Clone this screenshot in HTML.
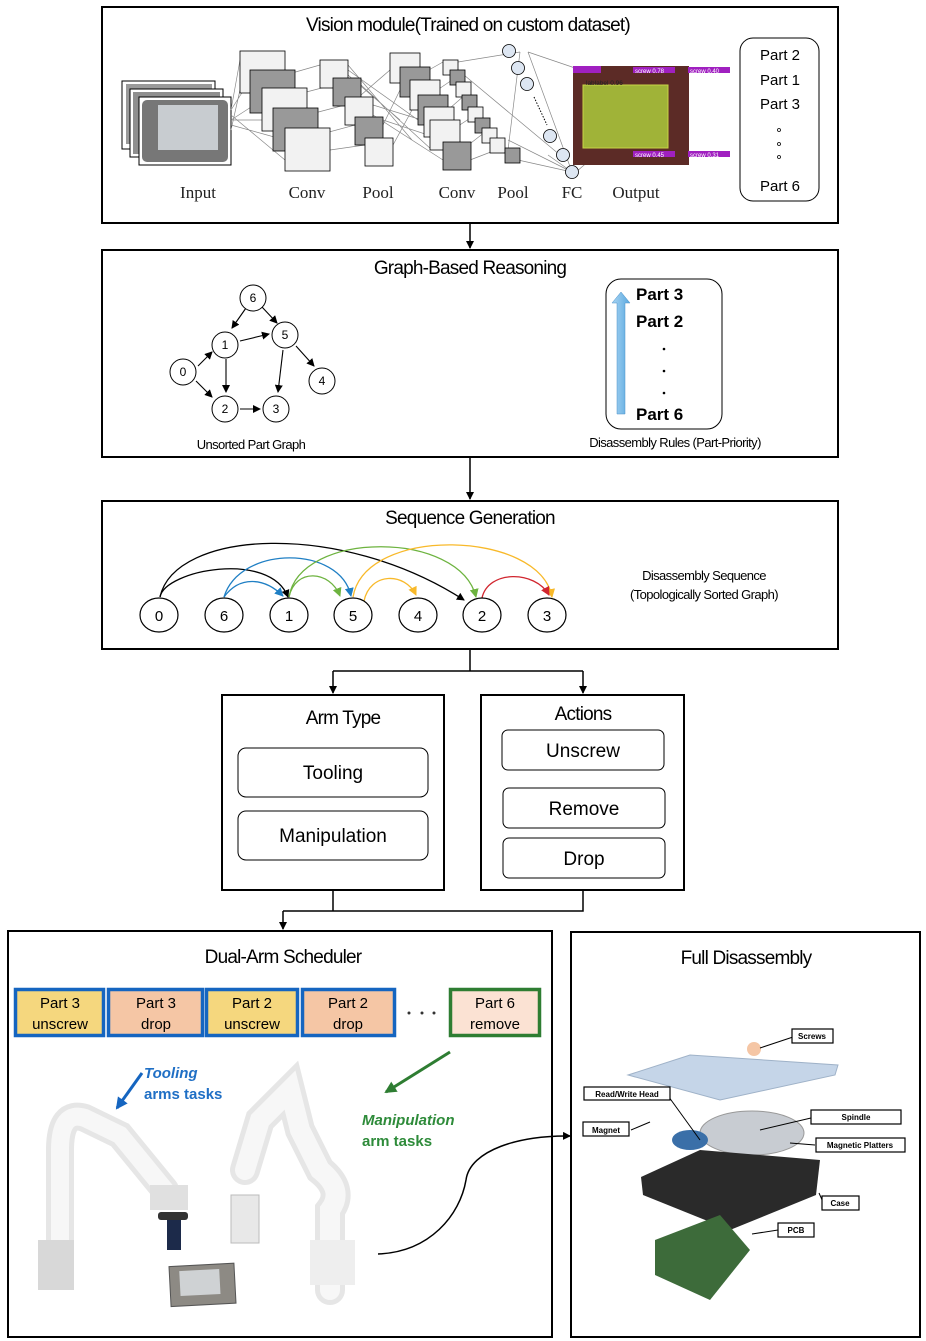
<!DOCTYPE html>
<html><head><meta charset="utf-8"><style>
html,body{margin:0;padding:0;background:#fff}
svg{display:block}
text{font-family:"Liberation Sans",sans-serif}
text.sf{font-family:"Liberation Serif",serif}
</style></head><body>
<svg width="926" height="1341" viewBox="0 0 926 1341" xmlns="http://www.w3.org/2000/svg">
<defs>
<marker id="ak" markerWidth="8" markerHeight="8" refX="7" refY="4" orient="auto" markerUnits="userSpaceOnUse"><path d="M0,0 L8,4 L0,8 z" fill="#000"/></marker>
<marker id="ab" markerWidth="9" markerHeight="9" refX="8" refY="4.5" orient="auto" markerUnits="userSpaceOnUse"><path d="M0,0 L9,4.5 L0,9 z" fill="#1f7fc4"/></marker>
<marker id="ag" markerWidth="9" markerHeight="9" refX="8" refY="4.5" orient="auto" markerUnits="userSpaceOnUse"><path d="M0,0 L9,4.5 L0,9 z" fill="#6db33f"/></marker>
<marker id="ay" markerWidth="9" markerHeight="9" refX="8" refY="4.5" orient="auto" markerUnits="userSpaceOnUse"><path d="M0,0 L9,4.5 L0,9 z" fill="#f8b92a"/></marker>
<marker id="ar" markerWidth="9" markerHeight="9" refX="8" refY="4.5" orient="auto" markerUnits="userSpaceOnUse"><path d="M0,0 L9,4.5 L0,9 z" fill="#d1262f"/></marker>
<marker id="aB" markerWidth="12" markerHeight="12" refX="10" refY="6" orient="auto" markerUnits="userSpaceOnUse"><path d="M0,0 L12,6 L0,12 z" fill="#1565c0"/></marker>
<marker id="aG" markerWidth="12" markerHeight="12" refX="10" refY="6" orient="auto" markerUnits="userSpaceOnUse"><path d="M0,0 L12,6 L0,12 z" fill="#2e7d32"/></marker>
<linearGradient id="upg" x1="0" x2="1"><stop offset="0" stop-color="#a9d4f2"/><stop offset="1" stop-color="#5aa9e0"/></linearGradient>
</defs>

<!-- Box 1 -->
<rect x="102" y="7" width="736" height="216" fill="none" stroke="#000" stroke-width="2"/>
<text x="468" y="31" font-size="19" text-anchor="middle" letter-spacing="-0.8">Vision module(Trained on custom dataset)</text>
<rect x="122" y="81" width="93" height="68" fill="#fff" stroke="#000"/>
<rect x="126" y="84" width="86" height="60" fill="#9a9a9a"/>
<rect x="130" y="89" width="93" height="68" fill="#fff" stroke="#000"/>
<rect x="133" y="92" width="87" height="62" fill="#8f8f8f"/>
<rect x="139" y="97" width="92" height="68" fill="#fff" stroke="#000"/>
<rect x="142" y="100" width="86" height="62" rx="5" fill="#777"/>
<rect x="158" y="105" width="60" height="45" fill="#c8ccd0"/>
<g stroke="#888" stroke-width="0.7" fill="none">
<path d="M231,110 L240,60 M231,110 L250,80 M231,120 L262,100 M231,120 L273,120 M231,125 L285,140 M231,130 L240,90 M231,115 L285,160"/>
<path d="M285,75 L320,65 M295,95 L333,85 M307,115 L345,105 M318,135 L355,125 M330,150 L365,145"/>
<path d="M348,65 L412,140 M348,75 L400,120 M361,85 L432,150 M361,95 L390,70 M373,105 L422,120 M373,115 L443,160 M383,125 L400,90 M393,145 L412,110 M383,120 L443,140 M348,70 L432,130"/>
<path d="M420,75 L443,62 M430,95 L455,78 M442,115 L465,95 M452,130 L475,115 M462,150 L485,132 M470,160 L496,150"/>
<path d="M458,62 L520,52 M508,150 L520,52 M458,70 L560,155 M518,160 L572,172 M508,140 L572,172 M548,155 L572,172"/>
<path d="M528,52 L572,172 M528,52 L575,68 M576,172 L590,160"/>
</g>
<g stroke="#000" stroke-width="0.8">
<rect x="240" y="51" width="45" height="42" fill="#f2f2f2"/>
<rect x="250" y="70" width="45" height="43" fill="#999"/>
<rect x="262" y="88" width="45" height="43" fill="#f2f2f2"/>
<rect x="273" y="108" width="45" height="43" fill="#999"/>
<rect x="285" y="128" width="45" height="43" fill="#f2f2f2"/>
<rect x="320" y="60" width="28" height="28" fill="#f2f2f2"/>
<rect x="333" y="78" width="28" height="28" fill="#999"/>
<rect x="345" y="97" width="28" height="28" fill="#f2f2f2"/>
<rect x="355" y="117" width="28" height="28" fill="#999"/>
<rect x="365" y="138" width="28" height="28" fill="#f2f2f2"/>
<rect x="390" y="53" width="30" height="30" fill="#f2f2f2"/>
<rect x="400" y="67" width="30" height="30" fill="#999"/>
<rect x="410" y="80" width="30" height="30" fill="#f2f2f2"/>
<rect x="418" y="95" width="30" height="30" fill="#999"/>
<rect x="424" y="107" width="30" height="30" fill="#f2f2f2"/>
<rect x="430" y="120" width="30" height="30" fill="#f2f2f2"/>
<rect x="443" y="142" width="28" height="28" fill="#999"/>
<rect x="443" y="60" width="15" height="15" fill="#f2f2f2"/>
<rect x="450" y="70" width="15" height="15" fill="#999"/>
<rect x="456" y="82" width="15" height="15" fill="#f2f2f2"/>
<rect x="462" y="95" width="15" height="15" fill="#999"/>
<rect x="468" y="107" width="15" height="15" fill="#f2f2f2"/>
<rect x="475" y="118" width="15" height="15" fill="#999"/>
<rect x="482" y="128" width="15" height="15" fill="#f2f2f2"/>
<rect x="490" y="138" width="15" height="15" fill="#f2f2f2"/>
<rect x="505" y="148" width="15" height="15" fill="#999"/>
</g>
<g fill="#dde6f2" stroke="#000" stroke-width="0.8">
<circle cx="509" cy="51" r="6.5"/><circle cx="518" cy="68" r="6.5"/><circle cx="527" cy="84" r="6.5"/>
<circle cx="550" cy="136" r="6.5"/><circle cx="563" cy="155" r="6.5"/><circle cx="572" cy="172" r="6.5"/>
</g>
<path d="M534,97 L547,125" stroke="#000" stroke-dasharray="1.5,1.5"/>
<rect x="573" y="66" width="116" height="99" fill="#5c2b26"/>
<rect x="583" y="85" width="85" height="63" fill="#a8c23a" opacity="0.9" stroke="#d4e84a"/>
<rect x="573" y="66" width="28" height="7" fill="#a020c0"/><rect x="633" y="67" width="42" height="6" fill="#a020c0"/><rect x="688" y="67" width="42" height="6" fill="#a020c0"/>
<rect x="633" y="151" width="42" height="6" fill="#a020c0"/><rect x="688" y="151" width="42" height="6" fill="#a020c0"/>
<text x="635" y="73" font-size="6" fill="#fff">screw 0.78</text><text x="690" y="73" font-size="6" fill="#fff">screw 0.40</text>
<text x="635" y="157" font-size="6" fill="#fff">screw 0.45</text><text x="690" y="157" font-size="6" fill="#fff">screw 0.31</text>
<text x="586" y="85" font-size="6.5" fill="#222">lablabel 0.96</text>
<g font-size="17" fill="#222" text-anchor="middle">
<text class="sf" x="198" y="198">Input</text>
<text class="sf" x="307" y="198">Conv</text>
<text class="sf" x="378" y="198">Pool</text>
<text class="sf" x="457" y="198">Conv</text>
<text class="sf" x="513" y="198">Pool</text>
<text class="sf" x="572" y="198">FC</text>
<text class="sf" x="636" y="198">Output</text>
</g>
<rect x="740" y="38" width="79" height="163" rx="13" fill="#fff" stroke="#000"/>
<g font-size="15" text-anchor="middle"><text x="780" y="60">Part 2</text><text x="780" y="85">Part 1</text><text x="780" y="109">Part 3</text><text x="780" y="191">Part 6</text></g>
<g fill="none" stroke="#000" stroke-width="0.8"><circle cx="779" cy="130" r="1.5"/><circle cx="779" cy="144" r="1.5"/><circle cx="779" cy="157" r="1.5"/></g>

<line x1="470" y1="223" x2="470" y2="248" stroke="#000" stroke-width="1.5" marker-end="url(#ak)"/>

<!-- Box 2 -->
<rect x="102" y="250" width="736" height="207" fill="none" stroke="#000" stroke-width="2"/>
<text x="470" y="274" font-size="19" text-anchor="middle" letter-spacing="-0.8">Graph-Based Reasoning</text>
<g stroke="#000" stroke-width="1.1" fill="none">
<line x1="246" y1="308" x2="232" y2="328" marker-end="url(#ak)"/>
<line x1="262" y1="307" x2="277" y2="323" marker-end="url(#ak)"/>
<line x1="240" y1="341" x2="269" y2="334" marker-end="url(#ak)"/>
<line x1="198" y1="366" x2="212" y2="352" marker-end="url(#ak)"/>
<line x1="196" y1="381" x2="212" y2="397" marker-end="url(#ak)"/>
<line x1="226" y1="359" x2="226" y2="392" marker-end="url(#ak)"/>
<line x1="240" y1="409" x2="260" y2="409" marker-end="url(#ak)"/>
<line x1="283" y1="350" x2="278" y2="392" marker-end="url(#ak)"/>
<line x1="296" y1="346" x2="314" y2="366" marker-end="url(#ak)"/>
</g>
<g fill="#fff" stroke="#000" stroke-width="1"><circle cx="253" cy="298" r="13"/><circle cx="225" cy="345" r="13"/><circle cx="285" cy="335" r="13"/><circle cx="183" cy="372" r="13"/><circle cx="322" cy="381" r="13"/><circle cx="225" cy="409" r="13"/><circle cx="276" cy="409" r="13"/></g>
<g font-size="12" text-anchor="middle"><text x="253" y="302">6</text><text x="225" y="349">1</text><text x="285" y="339">5</text><text x="183" y="376">0</text><text x="322" y="385">4</text><text x="225" y="413">2</text><text x="276" y="413">3</text></g>
<text x="251" y="449" font-size="13" text-anchor="middle" letter-spacing="-0.6">Unsorted Part Graph</text>
<rect x="606" y="279" width="116" height="150" rx="15" fill="#fff" stroke="#000"/>
<path d="M617,414 L617,303 L612,303 L621,292 L630,303 L625,303 L625,414 Z" fill="url(#upg)" stroke="#4a90c8" stroke-width="0.5"/>
<g font-size="17" font-weight="bold"><text x="636" y="300">Part 3</text><text x="636" y="327">Part 2</text><text x="636" y="420">Part 6</text></g>
<g fill="#000"><circle cx="664" cy="349" r="1.3"/><circle cx="664" cy="371" r="1.3"/><circle cx="664" cy="393" r="1.3"/></g>
<text x="675" y="447" font-size="13" text-anchor="middle" letter-spacing="-0.6">Disassembly Rules (Part-Priority)</text>

<line x1="470" y1="457" x2="470" y2="499" stroke="#000" stroke-width="1.5" marker-end="url(#ak)"/>

<!-- Box 3 -->
<rect x="102" y="501" width="736" height="148" fill="none" stroke="#000" stroke-width="2"/>
<text x="470" y="524" font-size="19" text-anchor="middle" letter-spacing="-0.8">Sequence Generation</text>
<g fill="none" stroke-width="1.3">
<path d="M160,597 C165,570 270,550 288,597" stroke="#000" marker-end="url(#ak)"/>
<path d="M160,597 C175,530 340,520 464,600" stroke="#000" marker-end="url(#ak)"/>
<path d="M224,597 C240,575 265,578 283,596" stroke="#1f7fc4" marker-end="url(#ab)"/>
<path d="M224,597 C240,545 340,545 351,596" stroke="#1f7fc4" marker-end="url(#ab)"/>
<path d="M289,597 C295,568 330,570 340,596" stroke="#6db33f" marker-end="url(#ag)"/>
<path d="M289,597 C300,530 460,530 476,597" stroke="#6db33f" marker-end="url(#ag)"/>
<path d="M353,597 C365,525 540,530 552,597" stroke="#f8b92a" marker-end="url(#ay)"/>
<path d="M364,601 C370,572 405,572 416,595" stroke="#f8b92a" marker-end="url(#ay)"/>
<path d="M482,598 C488,570 535,570 549,595" stroke="#d1262f" marker-end="url(#ar)"/>
</g>
<g fill="#fff" stroke="#000" stroke-width="1.2"><ellipse cx="159" cy="615" rx="19" ry="17"/><ellipse cx="224" cy="615" rx="19" ry="17"/><ellipse cx="289" cy="615" rx="19" ry="17"/><ellipse cx="353" cy="615" rx="19" ry="17"/><ellipse cx="418" cy="615" rx="19" ry="17"/><ellipse cx="482" cy="615" rx="19" ry="17"/><ellipse cx="547" cy="615" rx="19" ry="17"/></g>
<g font-size="15" text-anchor="middle"><text x="159" y="621">0</text><text x="224" y="621">6</text><text x="289" y="621">1</text><text x="353" y="621">5</text><text x="418" y="621">4</text><text x="482" y="621">2</text><text x="547" y="621">3</text></g>
<text x="704" y="580" font-size="13" text-anchor="middle" letter-spacing="-0.6">Disassembly Sequence</text>
<text x="704" y="599" font-size="13" text-anchor="middle" letter-spacing="-0.6">(Topologically Sorted Graph)</text>

<!-- connectors -->
<g stroke="#000" stroke-width="1.5" fill="none">
<path d="M470,649 L470,671 M333,671 L583,671"/>
<line x1="333" y1="671" x2="333" y2="693" marker-end="url(#ak)"/>
<line x1="583" y1="671" x2="583" y2="693" marker-end="url(#ak)"/>
<path d="M333,890 L333,911 M283,911 L583,911 L583,890"/>
<line x1="283" y1="911" x2="283" y2="929" marker-end="url(#ak)"/>
</g>

<!-- Arm type -->
<rect x="222" y="695" width="222" height="195" fill="#fff" stroke="#000" stroke-width="2"/>
<text x="343" y="724" font-size="19" text-anchor="middle" letter-spacing="-0.8">Arm Type</text>
<rect x="238" y="748" width="190" height="49" rx="8" fill="#fff" stroke="#000"/>
<text x="333" y="779" font-size="19" text-anchor="middle">Tooling</text>
<rect x="238" y="811" width="190" height="49" rx="8" fill="#fff" stroke="#000"/>
<text x="333" y="842" font-size="19" text-anchor="middle">Manipulation</text>
<rect x="481" y="695" width="203" height="195" fill="#fff" stroke="#000" stroke-width="2"/>
<text x="583" y="720" font-size="19" text-anchor="middle" letter-spacing="-0.8">Actions</text>
<rect x="502" y="730" width="162" height="40" rx="6" fill="#fff" stroke="#000"/>
<text x="583" y="757" font-size="19" text-anchor="middle">Unscrew</text>
<rect x="503" y="788" width="162" height="40" rx="6" fill="#fff" stroke="#000"/>
<text x="584" y="815" font-size="19" text-anchor="middle">Remove</text>
<rect x="503" y="838" width="162" height="40" rx="6" fill="#fff" stroke="#000"/>
<text x="584" y="865" font-size="19" text-anchor="middle">Drop</text>

<!-- Scheduler -->
<rect x="8" y="931" width="544" height="406" fill="none" stroke="#000" stroke-width="2"/>
<text x="283" y="963" font-size="19" text-anchor="middle" letter-spacing="-0.8">Dual-Arm Scheduler</text>
<g stroke-width="3.5">
<rect x="15.5" y="989.5" width="88" height="46" fill="#f5d77e" stroke="#1565c0"/>
<rect x="108.5" y="989.5" width="94" height="46" fill="#f5c6a5" stroke="#1565c0"/>
<rect x="206.5" y="989.5" width="91" height="46" fill="#f5d77e" stroke="#1565c0"/>
<rect x="302.5" y="989.5" width="92" height="46" fill="#f5c6a5" stroke="#1565c0"/>
<rect x="450.5" y="989.5" width="89" height="46" fill="#fbe2d3" stroke="#2e7d32"/>
</g>
<g font-size="15" text-anchor="middle">
<text x="60" y="1008">Part 3</text><text x="60" y="1029">unscrew</text>
<text x="156" y="1008">Part 3</text><text x="156" y="1029">drop</text>
<text x="252" y="1008">Part 2</text><text x="252" y="1029">unscrew</text>
<text x="348" y="1008">Part 2</text><text x="348" y="1029">drop</text>
<text x="495" y="1008">Part 6</text><text x="495" y="1029">remove</text>
</g>
<g fill="#333"><circle cx="409" cy="1013" r="1.5"/><circle cx="422" cy="1013" r="1.5"/><circle cx="434" cy="1013" r="1.5"/></g>
<line x1="142" y1="1073" x2="117" y2="1108" stroke="#1565c0" stroke-width="3" marker-end="url(#aB)"/>
<text x="144" y="1078" font-size="15" font-weight="bold" font-style="italic" fill="#1f6fc5">Tooling</text>
<text x="144" y="1099" font-size="15" font-weight="bold" fill="#1f6fc5">arms tasks</text>
<line x1="450" y1="1052" x2="386" y2="1092" stroke="#2e7d32" stroke-width="3" marker-end="url(#aG)"/>
<text x="362" y="1125" font-size="15" font-weight="bold" font-style="italic" fill="#2e8b3a">Manipulation</text>
<text x="362" y="1146" font-size="15" font-weight="bold" fill="#2e8b3a">arm tasks</text>
<g stroke-linecap="round" fill="none">
<path d="M60,1270 L60,1150 Q60,1110 85,1118 L120,1135 L165,1190" stroke="#e6e6e6" stroke-width="28"/>
<path d="M60,1270 L60,1150 Q60,1110 85,1118 L120,1135 L165,1190" stroke="#f7f7f7" stroke-width="18"/>
</g>
<rect x="38" y="1240" width="36" height="50" fill="#d8d8d8"/>
<rect x="150" y="1185" width="38" height="25" fill="#e0e0e0"/>
<rect x="158" y="1212" width="30" height="8" rx="3" fill="#333"/>
<rect x="167" y="1220" width="14" height="30" fill="#1c2a4a"/>
<g stroke-linecap="round" fill="none">
<path d="M330,1290 L330,1210 Q345,1190 320,1170 L300,1130 L290,1090 L260,1120 L245,1170" stroke="#e6e6e6" stroke-width="30"/>
<path d="M330,1290 L330,1210 Q345,1190 320,1170 L300,1130 L290,1090 L260,1120 L245,1170" stroke="#f7f7f7" stroke-width="20"/>
</g>
<rect x="310" y="1240" width="45" height="45" fill="#eee"/>
<rect x="231" y="1195" width="28" height="48" fill="#e8e8e8" stroke="#bbb"/>
<rect x="170" y="1265" width="65" height="40" fill="#8d8a84" stroke="#555" transform="rotate(-3 200 1285)"/>
<rect x="180" y="1270" width="40" height="25" fill="#cfd2d4" transform="rotate(-3 200 1285)"/>
<path d="M378,1254 C430,1252 460,1215 466,1180 C470,1150 520,1135 570,1136" fill="none" stroke="#000" stroke-width="1.5" marker-end="url(#ak)"/>

<!-- Full disassembly -->
<rect x="571" y="932" width="349" height="405" fill="none" stroke="#000" stroke-width="2"/>
<text x="746" y="964" font-size="19" text-anchor="middle" letter-spacing="-0.8">Full Disassembly</text>
<path d="M628,1075 L690,1055 L838,1065 L835,1075 L720,1100 Z" fill="#c5d5e8" stroke="#9fb2c8"/>
<circle cx="754" cy="1049" r="7" fill="#f5c6a5"/>
<ellipse cx="752" cy="1133" rx="52" ry="22" fill="#c8ccd2" stroke="#999"/>
<path d="M641,1177 L700,1150 L820,1160 L816,1195 L730,1230 L643,1195 Z" fill="#2a2a2a"/>
<ellipse cx="690" cy="1140" rx="18" ry="10" fill="#3a6fa8"/>
<path d="M655,1240 L720,1215 L750,1250 L710,1300 L655,1275 Z" fill="#3d6b3a"/>
<g stroke="#000" stroke-width="1"><line x1="760" y1="1048" x2="793" y2="1037"/><line x1="666" y1="1093" x2="700" y2="1140"/><line x1="631" y1="1130" x2="650" y2="1122"/><line x1="760" y1="1130" x2="811" y2="1118"/><line x1="790" y1="1143" x2="815" y2="1145"/><line x1="819" y1="1193" x2="823" y2="1202"/><line x1="752" y1="1234" x2="778" y2="1230"/></g>
<g fill="#fff" stroke="#000" stroke-width="1.2">
<rect x="792" y="1029" width="41" height="14"/><rect x="584" y="1087" width="86" height="13"/><rect x="583" y="1122" width="46" height="14"/>
<rect x="811" y="1110" width="90" height="14"/><rect x="816" y="1138" width="89" height="14"/><rect x="822" y="1196" width="37" height="14"/><rect x="778" y="1223" width="36" height="14"/>
</g>
<g font-size="8" font-weight="bold" text-anchor="middle">
<text x="812" y="1039">Screws</text><text x="627" y="1097">Read/Write Head</text><text x="606" y="1133">Magnet</text>
<text x="856" y="1120">Spindle</text><text x="860" y="1148">Magnetic Platters</text><text x="840" y="1206">Case</text><text x="796" y="1233">PCB</text>
</g>
</svg>
</body></html>
